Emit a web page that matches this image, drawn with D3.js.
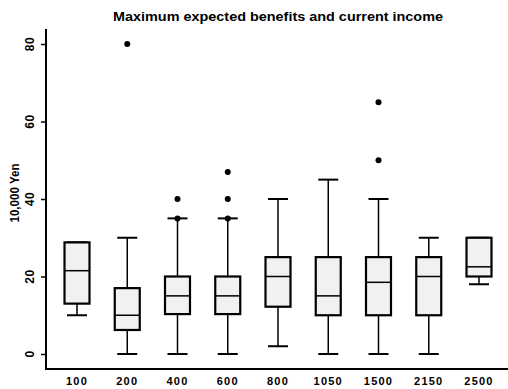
<!DOCTYPE html>
<html>
<head>
<meta charset="utf-8">
<script src="https://cdn.jsdelivr.net/npm/d3@7"></script>
<style>
  body { margin: 0; background: #fff; }
  svg { display: block; }
  text { font-family: "Liberation Sans", Arial, sans-serif; fill: #000; }
</style>
</head>
<body>
<svg width="508" height="389"></svg>
<script>
// income groups (10,000 yen)
const categories = ["100", "200", "400", "600", "800", "1050", "1500", "2150", "2500"];
// box plot stats
const lowerWhisker = [10, 0, 0, 0, 2, 0, 0, 0, 18];
const q1           = [13, 6.2, 10.3, 10.3, 12.2, 10, 10, 10, 20];
const median       = [21.5, 10, 15, 15, 20, 15, 18.5, 20, 22.5];
const q3           = [28.8, 17, 20, 20, 25, 25, 25, 25, 30];
const upperWhisker = [28.8, 30, 35, 35, 40, 45, 40, 30, 30];
const outliers     = [[], [80], [35, 40], [35, 40, 47], [], [], [50, 65], [], []];
const yTicks = [0, 20, 40, 60, 80];

const svg = d3.select("svg");

const x = d3.scalePoint()
    .domain(categories)
    .range([77, 479]);

const y = d3.scaleLinear()
    .domain([0, 80])
    .range([354, 44]);

const boxW = 25, capW = 20;

// title
svg.append("text")
    .attr("x", 278)
    .attr("y", 21)
    .attr("text-anchor", "middle")
    .attr("font-size", 13)
    .attr("font-weight", "bold")
    .attr("textLength", 330)
    .attr("lengthAdjust", "spacingAndGlyphs")
    .text("Maximum expected benefits and current income");

// y axis
const yAxis = svg.append("g")
    .attr("transform", "translate(46,0)")
    .call(d3.axisLeft(y).tickValues(yTicks).tickSize(5).tickFormat(""));
yAxis.select(".domain")
    .attr("d", "M0,29V369")
    .attr("stroke-width", 2);
yAxis.selectAll(".tick line").attr("stroke-width", 1.5);

yTicks.forEach(t => {
    svg.append("text")
        .attr("transform", `translate(34,${y(t)}) rotate(-90)`)
        .attr("text-anchor", "middle")
        .attr("font-size", 12)
        .attr("font-weight", "bold")
        .attr("letter-spacing", 0.5)
        .text(t);
});

svg.append("text")
    .attr("transform", "translate(19,193) rotate(-90)")
    .attr("text-anchor", "middle")
    .attr("font-size", 12)
    .attr("font-weight", "bold")
    .attr("textLength", 59)
    .attr("lengthAdjust", "spacingAndGlyphs")
    .text("10,000 Yen");

// x axis
svg.append("line")
    .attr("x1", 45).attr("x2", 508)
    .attr("y1", 369).attr("y2", 369)
    .attr("stroke", "#000")
    .attr("stroke-width", 2);

svg.selectAll(".xlab")
    .data(categories)
    .enter()
    .append("text")
    .attr("class", "xlab")
    .attr("x", d => x(d))
    .attr("y", 385)
    .attr("text-anchor", "middle")
    .attr("font-size", 11)
    .attr("font-weight", "bold")
    .attr("letter-spacing", 1.2)
    .text(d => d);

// boxes
const groups = svg.selectAll(".grp")
    .data(categories)
    .enter()
    .append("g")
    .attr("class", "grp");

groups.each(function(d, i) {
    const g = d3.select(this);
    const cx = x(d);

    // whiskers
    g.append("line")
        .attr("x1", cx).attr("x2", cx)
        .attr("y1", y(upperWhisker[i])).attr("y2", y(q3[i]))
        .attr("stroke", "#000").attr("stroke-width", 1.5);
    g.append("line")
        .attr("x1", cx).attr("x2", cx)
        .attr("y1", y(q1[i])).attr("y2", y(lowerWhisker[i]))
        .attr("stroke", "#000").attr("stroke-width", 1.5);
    [upperWhisker[i], lowerWhisker[i]].forEach(v => {
        g.append("line")
            .attr("x1", cx - capW / 2).attr("x2", cx + capW / 2)
            .attr("y1", y(v)).attr("y2", y(v))
            .attr("stroke", "#000").attr("stroke-width", 2);
    });

    // box
    g.append("rect")
        .attr("x", cx - boxW / 2)
        .attr("y", y(q3[i]))
        .attr("width", boxW)
        .attr("height", y(q1[i]) - y(q3[i]))
        .attr("fill", "#f1f1f1")
        .attr("stroke", "#000")
        .attr("stroke-width", 2.2);

    // median
    g.append("line")
        .attr("x1", cx - boxW / 2).attr("x2", cx + boxW / 2)
        .attr("y1", y(median[i])).attr("y2", y(median[i]))
        .attr("stroke", "#000").attr("stroke-width", 1.5);

    // outliers
    g.selectAll("circle")
        .data(outliers[i])
        .enter()
        .append("circle")
        .attr("cx", cx)
        .attr("cy", v => y(v))
        .attr("r", 3)
        .attr("fill", "#000");
});
</script>
</body>
</html>
